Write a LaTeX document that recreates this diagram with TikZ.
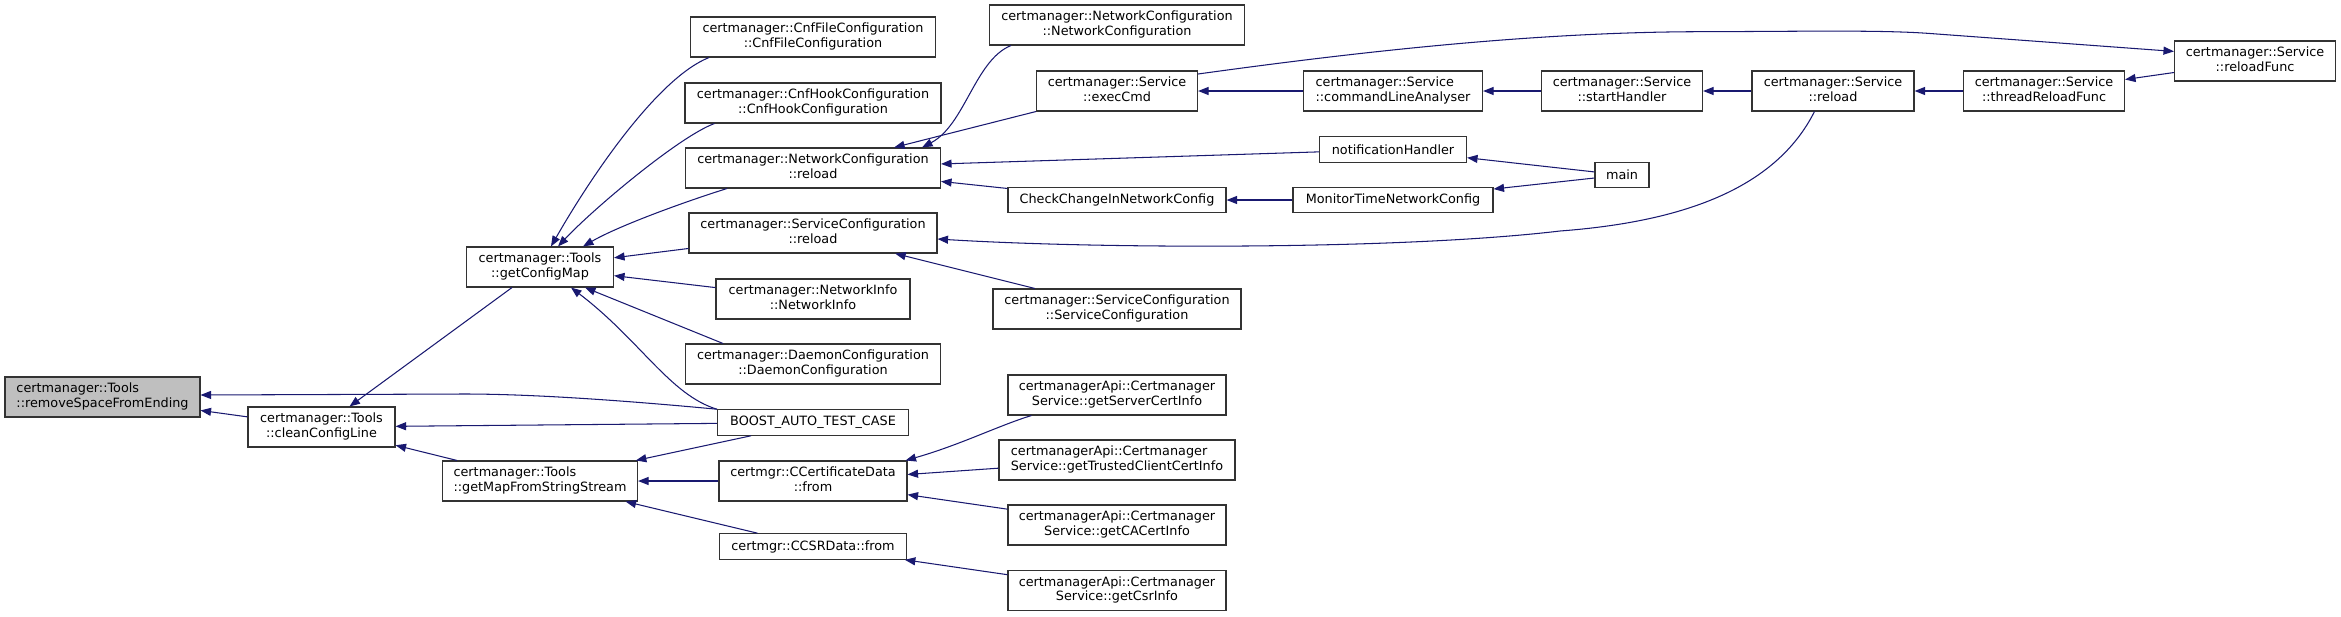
\documentclass[tikz,border=0pt]{standalone}
\usepackage{fontspec}
\setmainfont{DejaVu Sans}
\usepackage{xcolor}
\usepackage{tikz}
\usetikzlibrary{arrows.meta,calc}
\definecolor{midblue}{HTML}{191970}
\newcommand{\dgfont}{\fontsize{12.8}{14.5}\selectfont}
\newcommand{\fnlabel}[2]{\begin{tabular}{@{}c@{}}\multicolumn{1}{@{}l@{}}{#1}\\#2\end{tabular}}
\tikzset{
  fn/.style={draw=black!80,line width=1.1pt,fill=white,inner sep=2pt,
             minimum height=40pt,font=\dgfont},   % zweizeilige Funktion
  fnone/.style={fn,minimum height=25.5pt},        % einzeilige Funktion
  fnsel/.style={fn,fill=black!25},                % betrachtete Funktion
  call/.style={draw=midblue,line width=1.05pt,-{Triangle[length=10.5pt,width=8pt]}}
}

\begin{document}
\begin{tikzpicture}[x=1pt,y=-1pt]
  \useasboundingbox (0,0) rectangle (2341,616);

  % Spalte 1 und 2
  \node[fnsel,minimum width=195pt] (rsfe) at (102.5,397) {\fnlabel{certmanager::Tools}{::removeSpaceFromEnding}};
  \node[fn,minimum width=147pt] (ccl) at (321.5,427) {\fnlabel{certmanager::Tools}{::cleanConfigLine}};
  \node[fn,minimum width=147pt] (gcm) at (540,267) {\fnlabel{certmanager::Tools}{::getConfigMap}};
  \node[fn,minimum width=195pt] (gmss) at (540,481) {\fnlabel{certmanager::Tools}{::getMapFromStringStream}};

  % Spalte 3
  \node[fn,minimum width=245pt] (cnffile) at (813,37) {\fnlabel{certmanager::CnfFileConfiguration}{::CnfFileConfiguration}};
  \node[fn,minimum width=256pt] (cnfhook) at (813,103) {\fnlabel{certmanager::CnfHookConfiguration}{::CnfHookConfiguration}};
  \node[fn,minimum width=255pt] (ncreload) at (813,168) {\fnlabel{certmanager::NetworkConfiguration}{::reload}};
  \node[fn,minimum width=248pt] (screload) at (813,233) {\fnlabel{certmanager::ServiceConfiguration}{::reload}};
  \node[fn,minimum width=194pt] (netinfo) at (813,299) {\fnlabel{certmanager::NetworkInfo}{::NetworkInfo}};
  \node[fn,minimum width=255pt] (daemon) at (813,364) {\fnlabel{certmanager::DaemonConfiguration}{::DaemonConfiguration}};
  \node[fnone,minimum width=191pt] (boost) at (813,422.5) {BOOST\_AUTO\_TEST\_CASE};
  \node[fn,minimum width=188pt] (ccert) at (813,481) {\fnlabel{certmgr::CCertificateData}{::from}};
  \node[fnone,minimum width=187pt] (ccsr) at (813,546.5) {certmgr::CCSRData::from};

  % Spalte 4
  \node[fn,minimum width=255pt] (ncctor) at (1117,25) {\fnlabel{certmanager::NetworkConfiguration}{::NetworkConfiguration}};
  \node[fn,minimum width=161pt] (exec) at (1117,91) {\fnlabel{certmanager::Service}{::execCmd}};
  \node[fnone,minimum width=218pt] (check) at (1117,200) {CheckChangeInNetworkConfig};
  \node[fn,minimum width=248pt] (scctor) at (1117,309) {\fnlabel{certmanager::ServiceConfiguration}{::ServiceConfiguration}};
  \node[fn,minimum width=218pt] (server) at (1117,395) {\fnlabel{certmanagerApi::Certmanager}{Service::getServerCertInfo}};
  \node[fn,minimum width=236pt] (trusted) at (1117,460) {\fnlabel{certmanagerApi::Certmanager}{Service::getTrustedClientCertInfo}};
  \node[fn,minimum width=218pt] (cacert) at (1117,525) {\fnlabel{certmanagerApi::Certmanager}{Service::getCACertInfo}};
  \node[fn,minimum width=218pt] (csr) at (1117,590.5) {\fnlabel{certmanagerApi::Certmanager}{Service::getCsrInfo}};

  % Spalte 5 bis 8
  \node[fn,minimum width=179pt] (cla) at (1393,91) {\fnlabel{certmanager::Service}{::commandLineAnalyser}};
  \node[fnone,minimum width=147pt] (notif) at (1393,149.5) {notificationHandler};
  \node[fnone,minimum width=200pt] (monitor) at (1393,200) {MonitorTimeNetworkConfig};
  \node[fn,minimum width=161pt] (starth) at (1622,91) {\fnlabel{certmanager::Service}{::startHandler}};
  \node[fnone,minimum width=54pt] (mainfn) at (1622,175) {main};
  \node[fn,minimum width=162pt] (sreload) at (1833,91) {\fnlabel{certmanager::Service}{::reload}};
  \node[fn,minimum width=161pt] (thread) at (2044,91) {\fnlabel{certmanager::Service}{::threadReloadFunc}};
  \node[fn,minimum width=161pt] (reloadf) at (2255,61) {\fnlabel{certmanager::Service}{::reloadFunc}};

  % Aufrufe
  \draw[call] (ccl) -- (rsfe);
  \draw[call] (boost.north west) .. controls (640,402) and (540,394) .. (464,394) -- ([yshift=2pt]rsfe.east);
  \draw[call] (gcm) -- (ccl);
  \draw[call] (boost) -- (ccl);
  \draw[call] (gmss) -- (ccl);

  \draw[call] ([xshift=19pt]cnffile.south west) .. controls (660,77) and (596,168) .. ([xshift=11pt]gcm.north);
  \draw[call] ([xshift=30pt]cnfhook.south west) .. controls (680,136) and (594,208) .. ([xshift=18pt]gcm.north);
  \draw[call] ([xshift=42pt]ncreload.south west) .. controls (690,200) and (620,225) .. ([xshift=43pt]gcm.north);
  \draw[call] (screload) -- (gcm);
  \draw[call] (netinfo) -- (gcm);
  \draw[call] ([xshift=38pt]daemon.north west) -- ([xshift=45pt]gcm.south);
  \draw[call] (boost.north west) .. controls (670,395) and (640,340) .. ([xshift=31pt]gcm.south);

  \draw[call] (boost) -- (gmss);
  \draw[call] (ccert) -- (gmss);
  \draw[call] (ccsr) -- (gmss);

  \draw[call] ([xshift=22pt]ncctor.south west) .. controls (975,60) and (965,125) .. ([xshift=-19pt]ncreload.north east);
  \draw[call] (exec) -- (ncreload);
  \draw[call] (notif) -- (ncreload);
  \draw[call] (check) -- (ncreload);

  \draw[call] ([xshift=63pt]sreload.south west) .. controls (1775,190) and (1680,222) .. (1560,231)
    .. controls (1400,250) and (1100,249) .. ([yshift=-6pt]screload.east);
  \draw[call] (scctor) -- (screload);

  \draw[call] ([xshift=24pt]server.south west) .. controls (1000,425) and (960,445) .. ([xshift=-2pt]ccert.north east);
  \draw[call] (trusted) -- (ccert);
  \draw[call] (cacert) -- (ccert);
  \draw[call] (csr) -- (ccsr);

  \draw[call] (cla) -- (exec);
  \draw[call] ([yshift=17pt]exec.east) .. controls (1350,53) and (1530,32) .. (1700,31.7)
    .. controls (1800,31.5) and (1880,29.75) .. (1930,33.5) -- ([yshift=9.6pt]reloadf.west);
  \draw[call] (starth) -- (cla);
  \draw[call] (sreload) -- (starth);
  \draw[call] (thread) -- (sreload);
  \draw[call] (reloadf) -- (thread);
  \draw[call] (mainfn) -- (notif);
  \draw[call] (mainfn) -- (monitor);
  \draw[call] (monitor) -- (check);
\end{tikzpicture}
\end{document}
